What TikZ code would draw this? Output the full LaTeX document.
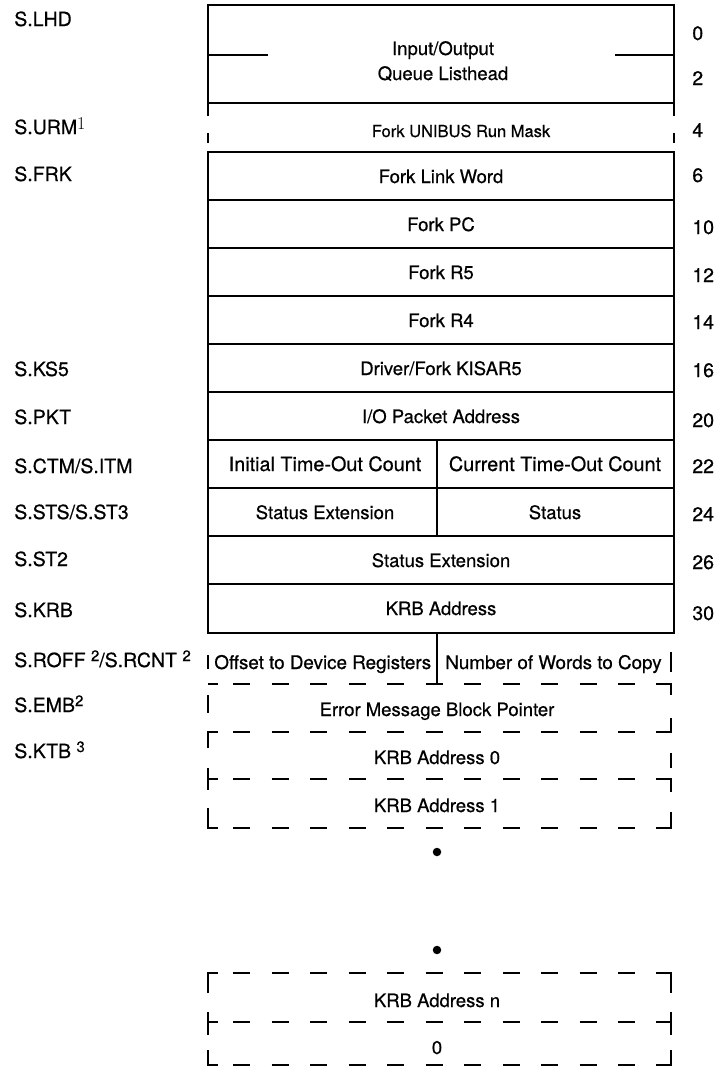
\documentclass[tikz,border=0pt]{standalone}
\usepackage{fontspec}
\newfontfamily\hv[FakeBold=0.6]{TeX Gyre Heros}
\newcommand{\sups}[1]{\raisebox{6pt}{\fontsize{15}{15}\selectfont #1}}
\newcommand{\supone}{\raisebox{5pt}{\rmfamily\fontsize{18}{18}\selectfont 1}}
\begin{document}
\begin{tikzpicture}[x=1pt,y=-1pt,line width=2.7pt,
  dl/.style={line width=2.7pt,dash pattern=on 17pt off 21.5pt},
  txt/.style={anchor=base,inner sep=0pt,font=\hv\fontsize{18.5}{20}\selectfont},
  big/.style={anchor=base,inner sep=0pt,font=\hv\fontsize{19.8}{20}\selectfont},
  mid/.style={anchor=base west,inner sep=0pt,font=\hv\fontsize{18.8}{20}\selectfont},
  small/.style={anchor=base,inner sep=0pt,font=\hv\fontsize{16.5}{18}\selectfont},
  lbl/.style={anchor=base west,inner sep=0pt,font=\hv\fontsize{19.5}{20}\selectfont},
  num/.style={anchor=base west,inner sep=0pt,font=\hv\fontsize{19.5}{20}\selectfont},
  dot/.style={circle,fill=black,inner sep=0pt,minimum size=8.5pt}]
\useasboundingbox (0,0) rectangle (718,1074);
\def\L{208}\def\R{674}\def\M{437}\def\Rd{671}
% ---- top listhead box
\draw (\L,116) -- (\L,5) -- (\R,5) -- (\R,116);
\draw (\L,103) -- (\R,103);
\draw (\L,55) -- (268,55);
\draw (615,55) -- (\R,55);
\draw (\L,133) -- (\L,143);
\draw (\R,133) -- (\R,143);
% ---- solid rows
\draw (\L,152) rectangle (\R,633);
\foreach \y in {200,248,296,344,392,440,488,536,584} \draw (\L,\y) -- (\R,\y);
\draw (\M,440) -- (\M,536);
% ---- ROFF row
\draw (\M,633) -- (\M,684);
\draw (\L,655) -- (\L,669);
\draw (\Rd,652) -- (\Rd,672);
% ---- dashed area
\draw (\L,684) -- (218,684);
\draw[dl] (233,684) -- (640,684);
\draw (656,684) -- (\Rd,684) -- (\Rd,695);
\draw (\L,695) -- (\L,713);
\draw (\L,748) -- (\L,732) -- (218,732);
\draw[dl] (233,732) -- (640,732);
\draw (656,732) -- (\Rd,732) -- (\Rd,718);
\draw (\Rd,753) -- (\Rd,768);
\draw (\L,768) -- (\L,790);
\draw (\L,779) -- (218,779);
\draw[dl] (233,779) -- (640,779);
\draw (656,779) -- (\Rd,779) -- (\Rd,792);
\draw (\L,808) -- (\L,828) -- (218,828);
\draw[dl] (233,828) -- (640,828);
\draw (656,828) -- (\Rd,828) -- (\Rd,812);
\node[dot] (d1) at (\M,852) {};
\node[dot] (d2) at (\M,950) {};
\draw (\L,993) -- (\L,973) -- (218,973);
\draw[dl] (233,973) -- (640,973);
\draw (656,973) -- (\Rd,973) -- (\Rd,993);
\draw (\L,1012) -- (\L,1035);
\draw (\L,1022) -- (218,1022);
\draw[dl] (233,1022) -- (640,1022);
\draw (656,1022) -- (\Rd,1022);
\draw (\Rd,1012) -- (\Rd,1035);
\draw (\L,1050) -- (\L,1065) -- (218,1065);
\draw[dl] (233,1065) -- (640,1065);
\draw (656,1065) -- (\Rd,1065) -- (\Rd,1050);
% ---- box texts
\node[txt] (t1) at (443,55) {Input/Output};
\node[txt] (t2) at (443,80) {Queue Listhead};
\node[small] (urm) at (461,137) {Fork UNIBUS Run Mask};
\node[txt] (frk) at (441,183) {Fork Link Word};
\node[txt] (pc) at (441,231) {Fork PC};
\node[txt] (r5) at (441,279) {Fork R5};
\node[txt] (r4) at (441,327) {Fork R4};
\node[txt] (ks5) at (441,375) {Driver/Fork KISAR5};
\node[txt] (pkt) at (441,423) {I/O Packet Address};
\node[big] (itm) at (325,471) {Initial Time-Out Count};
\node[big] (ctm) at (555,471) {Current Time-Out Count};
\node[txt] (st3) at (325,519) {Status Extension};
\node[txt] (sts) at (555,519) {Status};
\node[txt] (st2) at (441,567) {Status Extension};
\node[txt] (krb) at (441,615) {KRB Address};
\node[mid] (roff) at (213,669) {Offset to Device Registers};
\node[mid] (rcnt) at (444,669) {Number of Words to Copy};
\node[txt] (emb) at (437,716) {Error Message Block Pointer};
\node[txt] (k0) at (437,764) {KRB Address 0};
\node[txt] (k1) at (437,812) {KRB Address 1};
\node[txt] (kn) at (437,1007) {KRB Address n};
\node[txt] (z) at (437,1054) {0};
% ---- left labels
\node[lbl] (lLHD) at (13,26) {S.LHD};
\node[lbl] (lURM) at (13,134) {S.URM\supone};
\node[lbl] (lFRK) at (13,181) {S.FRK};
\node[lbl] (lKS5) at (13,376) {S.KS5};
\node[lbl] (lPKT) at (13,424) {S.PKT};
\node[lbl] (lCTM) at (13,473) {S.CTM/S.ITM};
\node[lbl] (lSTS) at (13,519) {S.STS/S.ST3};
\node[lbl] (lST2) at (13,566) {S.ST2};
\node[lbl] (lKRB) at (13,617) {S.KRB};
\node[lbl] (lROFF) at (13,667) {S.ROFF \sups{2}/S.RCNT \sups{2}};
\node[lbl] (lEMB) at (13,712) {S.EMB\sups{2}};
\node[lbl] (lKTB) at (13,758) {S.KTB \sups{3}};
% ---- right offsets
\node[num] (n0) at (691,40) {0};
\node[num] (n2) at (691,85) {2};
\node[num] (n4) at (691,137) {4};
\node[num] (n6) at (691,182) {6};
\node[num] (n10) at (691,234) {10};
\node[num] (n12) at (691,282) {12};
\node[num] (n14) at (691,329) {14};
\node[num] (n16) at (691,377) {16};
\node[num] (n20) at (691,427) {20};
\node[num] (n22) at (691,473) {22};
\node[num] (n24) at (691,521) {24};
\node[num] (n26) at (691,569) {26};
\node[num] (n30) at (691,620) {30};
\end{tikzpicture}
\end{document}
